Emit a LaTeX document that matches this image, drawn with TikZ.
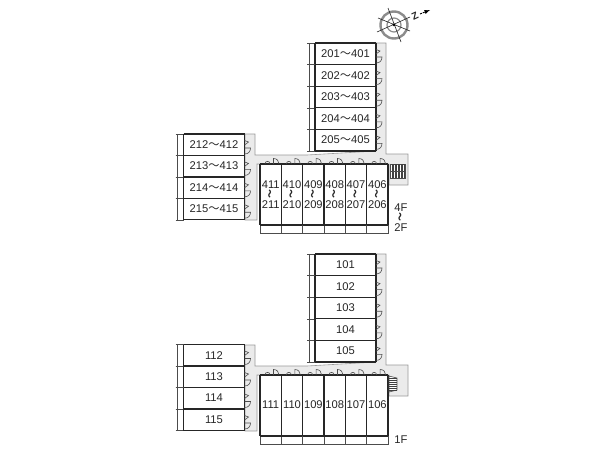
\documentclass[tikz,border=0pt]{standalone}
\usepackage{fontspec}
\setmainfont{Liberation Sans}
\newfontfamily\cjk{Noto Sans CJK JP}
\newcommand{\wavedash}{{\cjk ～}}
\newcommand{\upwave}{\smash{\scalebox{0.8}{\rotatebox{90}{\cjk\bfseries ～}}}}
\tikzset{
  wall/.style={draw=black!85, line width=1.1pt},
  thinwall/.style={draw=black!70, line width=0.6pt},
  floorarea/.style={fill=black!8, draw=black!40, line width=0.6pt},
  roomtext/.style={inner sep=0pt, font=\fontsize{11.2}{12}\selectfont, text=black!85},
  unittext/.style={inner sep=0pt, align=center, font=\fontsize{11.2}{10}\selectfont, text=black!85},
  roomrow/.pic={
    \draw[thinwall] (2,0) -- (2,21.6) (0,0) -- (8,0) (0,21.6) -- (8,21.6);
    \draw[wall] (8,0) -- (69,0) (8,0) -- (8,21.6) (8,21.6) -- (69,21.6) (69,0) -- (69,21.6);
    \draw[thinwall] (69,6.5) -- (73,8) -- (69,11);
    \draw[thinwall] (69,14) -- (75,14) .. controls (75,17.5) and (73,20) .. (69,20);
  },
  unitcol/.pic={
    \draw[thinwall] (0,61) rectangle (21.33,69);
    \draw[wall] (0,0) -- (21.33,0) (0,0) -- (0,61) (21.33,0) -- (21.33,61) (0,61) -- (21.33,61);
    \draw[wall] (8,61) -- (13,61);
    \draw[thinwall] (5,0) .. controls (5,-3.5) and (10,-3.5) .. (10,0);
    \draw[thinwall] (13.5,0) -- (13.5,-5.5) .. controls (17,-5.5) and (19,-3) .. (19,0);
  },
}
\begin{document}
\begin{tikzpicture}[x=1pt, y=-1pt]
\useasboundingbox (0,0) rectangle (600,450);
% floor areas
\foreach \f in {0,211} {
  \draw[floorarea, yshift=-\f pt] (245,134) -- (255,134) -- (255,155) -- (307,155) -- (376,151)
    -- (376,43) -- (386,43) -- (386,154) -- (408,154) -- (408,185) -- (389,185) -- (389,164)
    -- (257,164) -- (257,220) -- (245,220) -- cycle;
}
% right blocks
\foreach \y/\a/\b in {43/201/401, 64.6/202/402, 86.2/203/403, 107.8/204/404, 129.4/205/405} {
  \pic at (307,\y) {roomrow};
  \node[roomtext] (room\a) at (345.5,\y+10.6) {\a\wavedash\b};
}
\foreach \y/\a in {254/101, 275.6/102, 297.2/103, 318.8/104, 340.4/105} {
  \pic at (307,\y) {roomrow};
  \node[roomtext] (room\a) at (345.5,\y+10.6) {\a};
}
% left blocks
\foreach \y/\a/\b in {134/212/412, 155.4/213/413, 176.8/214/414, 198.2/215/415} {
  \pic at (175.5,\y) {roomrow};
  \node[roomtext] (room\a) at (214,\y+10.6) {\a\wavedash\b};
}
\foreach \y/\a in {344.5/112, 366/113, 387.5/114, 409/115} {
  \pic at (175.5,\y) {roomrow};
  \node[roomtext] (room\a) at (214,\y+10.6) {\a};
}
% long rows
\foreach \x/\a/\b in {260/411/211, 281.33/410/210, 302.67/409/209, 324/408/208, 345.33/407/207, 366.67/406/206} {
  \pic at (\x,164) {unitcol};
  \node[unittext] (room\a) at (\x+10.7,195) {\a\\\upwave\\\b};
}
\foreach \x/\a in {260/111, 281.33/110, 302.67/109, 324/108, 345.33/107, 366.67/106} {
  \pic at (\x,375) {unitcol};
  \node[roomtext] (room\a) at (\x+10.7,405) {\a};
}
% stairs
\draw[thinwall, fill=white] (390,164) rectangle (405,178);
\foreach \x in {392,393.5,...,404} \draw[line width=0.7pt, black!75] (\x,164) -- (\x,178);
\draw[thinwall] (390,171) -- (405,171);
\draw[thinwall, fill=white] (389,376) -- (397,378) -- (397,390) -- (389,392) -- cycle;
\foreach \y in {378,380,...,390} \draw[line width=0.7pt, black!75] (389,\y) -- (397,\y);
% floor names
\node[unittext] (upperfloor) at (401,218) {4F\\\upwave\\2F};
\node[roomtext] (lowerfloor) at (401,440) {1F};
% north mark
\draw[draw=black!45, line width=2.4pt] (394,25) circle (13.5);
\draw[draw=black!45, line width=1.2pt] (394,25) circle (7);
\draw[black!85, line width=0.6pt] (377,32) -- (410,17) (388,8) -- (401,42) (378,18) -- (410,31);
\fill[black] (394,25) circle (1.4);
\node[roomtext, font=\bfseries\fontsize{10}{10}\selectfont, rotate=25] (northz) at (415,16) {Z};
\coordinate (northa) at (420,14);
\coordinate (northb) at (430,10);
\draw[-latex, line width=0.9pt, dashed, dash pattern=on 2pt off 1pt] (northa) -- (northb);
\end{tikzpicture}
\end{document}
